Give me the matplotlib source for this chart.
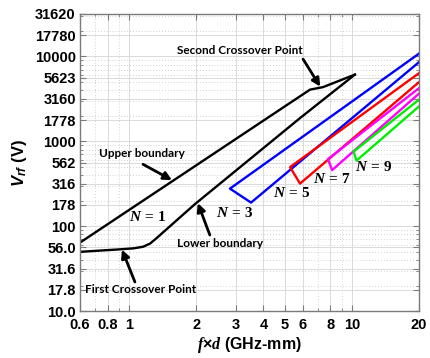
import matplotlib
matplotlib.use('Agg')
import matplotlib.pyplot as plt
from matplotlib.ticker import LogLocator, NullFormatter

plt.rcParams['font.family'] = 'Liberation Sans'
plt.rcParams['font.weight'] = 'bold'
plt.rcParams['axes.labelweight'] = 'bold'
plt.rcParams['mathtext.fontset'] = 'custom'
plt.rcParams['mathtext.rm'] = 'Liberation Serif:bold'
plt.rcParams['mathtext.it'] = 'Liberation Serif:italic:bold'
plt.rcParams['mathtext.sf'] = 'Liberation Sans:italic:bold'

# N = 1 region (closed loop: upper boundary then lower boundary)
n1_upper_x = [0.6, 6.48, 7.41, 10.3]
n1_upper_y = [64.1, 4064, 4348, 6104]
n1_lower_x = [0.6, 0.898, 1.038, 1.151, 1.238, 1.317, 1.97, 5.84, 10.3]
n1_lower_y = [49.9, 53.3, 54.8, 57.2, 62.4, 71.4, 182, 1876, 6104]

# higher order regions: upper edge end -> left vertex -> bottom vertex -> lower edge end
n3_x = [20, 2.83, 3.52, 20]
n3_y = [10790, 277, 189.7, 8570]
n5_x = [20, 5.27, 5.84, 20]
n5_y = [6357, 497, 317.5, 4980]
n7_x = [20, 7.80, 8.14, 20]
n7_y = [4232, 617, 458, 3647]
n9_x = [20, 10.16, 10.48, 20]
n9_y = [3099, 756, 592.6, 2577]

x_ticks = [0.6, 0.8, 1, 2, 3, 4, 5, 6, 8, 10, 20]
x_labels = ['0.6', '0.8', '1', '2', '3', '4', '5', '6', '8', '10', '20']
y_ticks = [10 ** (1 + k / 4) for k in range(15)]
y_labels = ['10.0', '17.8', '31.6', '56.0', '100', '178', '316', '562', '1000',
            '1778', '3160', '5623', '10000', '17780', '31620']

fig = plt.figure(figsize=(4.31, 3.58), dpi=100)
ax = fig.add_axes([0.1856, 0.131, 0.7866, 0.830])

lw = 1.7
ax.plot(n1_upper_x, n1_upper_y, color='k', lw=lw)
ax.plot(n1_lower_x, n1_lower_y, color='k', lw=lw)
ax.plot(n3_x, n3_y, color='#0000ff', lw=lw)
ax.plot(n5_x, n5_y, color='#ff0000', lw=lw)
ax.plot(n7_x, n7_y, color='#ff00ff', lw=lw)
ax.plot(n9_x, n9_y, color='#00ee00', lw=lw)

ax.set_xscale('log')
ax.set_yscale('log')
ax.set_xlim(0.6, 20)
ax.set_ylim(10, 31620)
ax.set_xticks(x_ticks, labels=x_labels)
ax.set_yticks(y_ticks, labels=y_labels)
ax.xaxis.set_minor_locator(LogLocator(subs=range(2, 10), numticks=20))
ax.yaxis.set_minor_locator(LogLocator(subs=range(2, 10), numticks=20))
ax.xaxis.set_minor_formatter(NullFormatter())
ax.yaxis.set_minor_formatter(NullFormatter())

ax.tick_params(which='both', direction='in', top=True, right=True,
               color='#7a7a7a', labelsize=10.5)
ax.tick_params(which='major', length=4)
ax.tick_params(which='minor', length=2)
ax.tick_params(axis='x', pad=5)
ax.tick_params(axis='y', pad=3)
for s in ax.spines.values():
    s.set_color('#7a7a7a')
    s.set_linewidth(1.0)

ax.grid(which='major', color='#dadada', lw=0.7, ls='-')
ax.grid(which='minor', color='#c4c4c4', lw=0.6, ls=(0, (1, 2.5)))
ax.set_axisbelow(True)

ax.set_xlabel(r'$\mathit{f}$×$\mathit{d}$ (GHz-mm)', fontsize=11.5, labelpad=2)
ax.set_ylabel(r'$\mathsf{V}_{\mathsf{rf}}$ (V)', fontsize=12, labelpad=4)

# annotations
note_font = dict(family='Lato', weight='bold', fontsize=8.5)
arrow = dict(arrowstyle='-|>', color='k', lw=2.0, mutation_scale=12,
             shrinkA=0, shrinkB=0)
ax.annotate('Second Crossover Point', xy=(7.2, 4400), xytext=(0.472, 0.877),
            textcoords='axes fraction', ha='center', va='center', **note_font)
ax.annotate('', xy=(7.2, 4400), xytext=(0.658, 0.848),
            textcoords='axes fraction', arrowprops=arrow)
ax.annotate('Upper boundary', xy=(1.554, 349), xytext=(0.184, 0.532),
            textcoords='axes fraction', ha='center', va='center', **note_font)
ax.annotate('', xy=(1.554, 349), xytext=(0.186, 0.494),
            textcoords='axes fraction', arrowprops=arrow)
ax.annotate('Lower boundary', xy=(2.03, 187), xytext=(0.413, 0.229),
            textcoords='axes fraction', ha='center', va='center', **note_font)
ax.annotate('', xy=(2.03, 187), xytext=(0.383, 0.256),
            textcoords='axes fraction', arrowprops=arrow)
ax.annotate('First Crossover Point', xy=(0.926, 53.0), xytext=(0.178, 0.074),
            textcoords='axes fraction', ha='center', va='center', **note_font)
ax.annotate('', xy=(0.926, 53.0), xytext=(0.162, 0.098),
            textcoords='axes fraction', arrowprops=arrow)

n_labels = [r'$\mathit{N}\,=\,1$', r'$\mathit{N}\,=\,3$', r'$\mathit{N}\,=\,5$',
            r'$\mathit{N}\,=\,7$', r'$\mathit{N}\,=\,9$']
n_pos = [(0.2006, 0.3165), (0.457, 0.330), (0.625, 0.397), (0.743, 0.444), (0.867, 0.485)]
for lab, (px, py) in zip(n_labels, n_pos):
    ax.text(px, py, lab, transform=ax.transAxes, ha='center', va='center', fontsize=11)

fig.savefig('out.png', dpi=100, facecolor='white')
